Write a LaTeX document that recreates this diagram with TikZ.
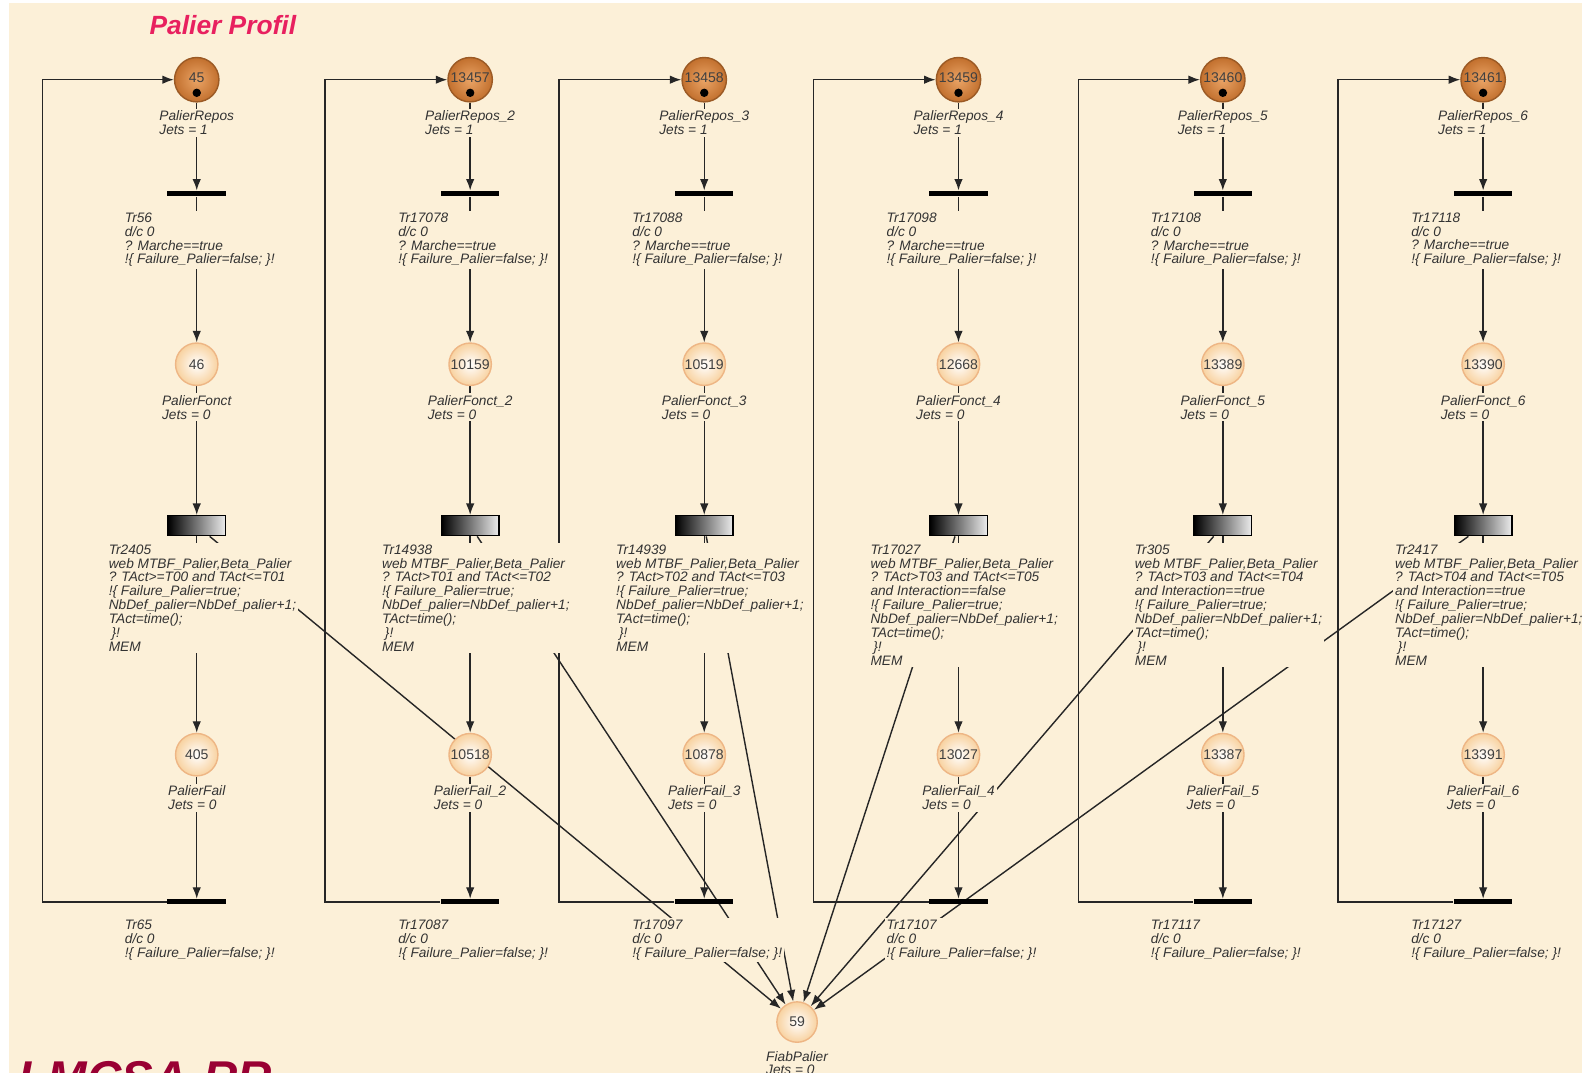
\documentclass[tikz,border=0pt]{standalone}
\usepackage{fontspec}
\setmainfont{Liberation Sans}
\usetikzlibrary{arrows.meta,positioning}
\definecolor{crema}{HTML}{FCF0D8}
\definecolor{ocreA}{HTML}{EAA466}
\definecolor{ocreB}{HTML}{C2702E}
\definecolor{melocoton}{HTML}{F8D2A0}
\definecolor{rosa}{HTML}{E8205F}
\definecolor{granate}{HTML}{990033}
\pgfdeclarelayer{fondo}
\pgfdeclarelayer{arcos}
\pgfsetlayers{fondo,arcos,main}

\begin{document}
\begin{tikzpicture}[x=0.1009mm,y=-0.1009mm,line width=0.45pt,>={Latex[length=1.15mm,width=0.85mm]},
  txt/.style={font=\fontsize{3.9}{3.95}\selectfont\itshape,align=left,fill=crema,inner sep=0.6pt,text=black!80},
  num/.style={font=\fontsize{4}{4}\selectfont,text=black!75},
  repos/.style={circle,num,draw=ocreB!80!black,inner sep=0pt,minimum size=4.44mm,inner color=ocreA,outer color=ocreB},
  fonct/.style={circle,num,draw=ocreA!80,inner sep=0pt,minimum size=4.24mm,inner color=white,outer color=melocoton},
  barra/.style={fill=black,minimum width=5.85mm,minimum height=0.5mm,inner sep=0pt},
  temp/.style={draw=black,left color=black,right color=white!85!gray,minimum width=5.75mm,minimum height=2mm,inner sep=0pt},
  arco/.style={->,black!85}]
  % fondo
  \useasboundingbox (0,0) rectangle (1568,1063);
  \begin{pgfonlayer}{fondo}
    \fill[white] (0,0) rectangle (1568,1063);
    \fill[crema] (9,3) rectangle (1568,1063);
  \end{pgfonlayer}
  \node[font=\fontsize{7.5}{8}\selectfont\bfseries\itshape,text=rosa,anchor=west] (titulo) at (136,25) {Palier Profil};
  \node[font=\fontsize{13.5}{14}\selectfont\bfseries\itshape,text=granate,anchor=north west,inner sep=0pt] (sigla) at (18,1051) {LMCSA-RR};
  % lugar de fiabilidad
  \node[fonct,minimum size=4.04mm] (fiab) at (790,1013) {59};
  \node[txt,anchor=north] (lfiab) at (790,1039) {FiabPalier\\Jets = 0};
  % una columna por palier
  \foreach \col/\px/\lx/\suf/\nr/\nf/\nfl/\ta/\tb/\tw/\cond in {
    1/195/42/{}/45/46/405/56/65/2405/{? TAct>=T00 and TAct<=T01},
    2/466/322/\_2/13457/10159/10518/17078/17087/14938/{? TAct>T01 and TAct<=T02},
    3/698/554/\_3/13458/10519/10878/17088/17097/14939/{? TAct>T02 and TAct<=T03},
    4/950/806/\_4/13459/12668/13027/17098/17107/17027/{? TAct>T03 and TAct<=T05\\and Interaction==false},
    5/1212/1069/\_5/13460/13389/13387/17108/17117/305/{? TAct>T03 and TAct<=T04\\and Interaction==true},
    6/1470/1326/\_6/13461/13390/13391/17118/17127/2417/{? TAct>T04 and TAct<=T05\\and Interaction==true}}{
    \node[repos] (pr\col) at (\px,79) {\raisebox{0.35mm}{\nr}};
    \fill (\px,92) circle (0.42mm);
    \node[txt,anchor=north] (lpr\col) at (\px,107) {PalierRepos\suf\\Jets = 1};
    \node[barra] (ta\col) at (\px,192) {};
    \node[txt,anchor=north west] (lta\col) at (\px-74,208) {Tr\ta\\d/c 0\\? Marche==true\\!\{ Failure\_Palier=false; \}!};
    \node[fonct] (pf\col) at (\px,361) {\nf};
    \node[txt,anchor=north] (lpf\col) at (\px,389) {PalierFonct\suf\\Jets = 0};
    \node[temp] (tw\col) at (\px,521) {};
    \node[txt,anchor=north west] (ltw\col) at (\px-90,537) {Tr\tw\\web MTBF\_Palier,Beta\_Palier\\\cond\\!\{ Failure\_Palier=true;\\NbDef\_palier=NbDef\_palier+1;\\TAct=time();\\\hspace*{0.8pt}\}!\\MEM};
    \node[fonct] (pl\col) at (\px,748) {\nfl};
    \node[txt,anchor=north] (lpl\col) at (\px,776) {PalierFail\suf\\Jets = 0};
    \node[barra] (tb\col) at (\px,894) {};
    \node[txt,anchor=north west] (ltb\col) at (\px-74,909) {Tr\tb\\d/c 0\\!\{ Failure\_Palier=false; \}!};
    \coordinate (bucle\col) at (\lx,79);
    % arcos por debajo de las etiquetas
    \begin{pgfonlayer}{arcos}
      \draw[arco] (pr\col) -- (ta\col);
      \draw[arco] (ta\col) -- (pf\col);
      \draw[arco] (pf\col) -- (tw\col);
      \draw[arco] (tw\col) -- (pl\col);
      \draw[arco] (pl\col) -- (tb\col);
      \draw[arco] (tb\col.west) -| (bucle\col) -- (pr\col);
      \draw[arco] (tw\col) -- (fiab);
    \end{pgfonlayer}
  }
\end{tikzpicture}
\end{document}
